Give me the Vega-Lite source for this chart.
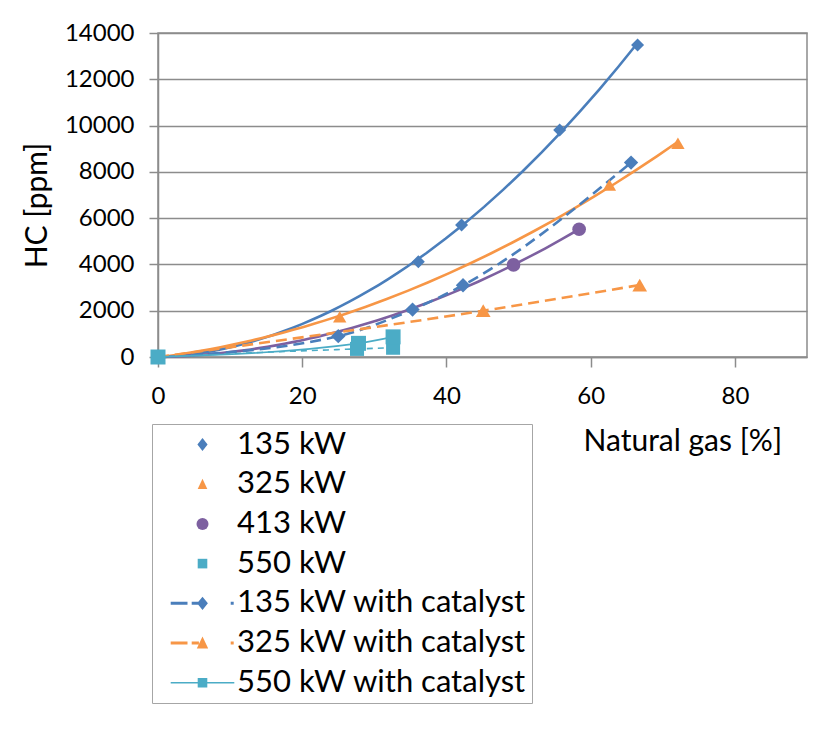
{
  "$schema": "https://vega.github.io/schema/vega-lite/v6.json",
  "width": 649,
  "height": 324,
  "autosize": {"type": "none"},
  "padding": {"left": 158, "top": 33, "right": 13, "bottom": 380},
  "background": "white",
  "config": {
    "font": "Lato",
    "view": {"stroke": "#8c8c8c", "strokeWidth": 1.5}
  },
  "data": {
    "values": [
      {"series": "135 kW", "x": 0, "y": 0},
      {"series": "135 kW", "x": 36.1, "y": 4120},
      {"series": "135 kW", "x": 42.1, "y": 5700},
      {"series": "135 kW", "x": 55.7, "y": 9810},
      {"series": "135 kW", "x": 66.5, "y": 13480},
      {"series": "325 kW", "x": 0, "y": 0},
      {"series": "325 kW", "x": 25.2, "y": 1740},
      {"series": "325 kW", "x": 62.6, "y": 7430},
      {"series": "325 kW", "x": 72.1, "y": 9240},
      {"series": "413 kW", "x": 0, "y": 0},
      {"series": "413 kW", "x": 49.3, "y": 3980},
      {"series": "413 kW", "x": 58.4, "y": 5520},
      {"series": "550 kW", "x": 0, "y": 0},
      {"series": "550 kW", "x": 27.6, "y": 350},
      {"series": "550 kW", "x": 32.6, "y": 400},
      {"series": "135 kW with catalyst", "x": 0, "y": 0},
      {"series": "135 kW with catalyst", "x": 25, "y": 900},
      {"series": "135 kW with catalyst", "x": 35.3, "y": 2050},
      {"series": "135 kW with catalyst", "x": 42.3, "y": 3100},
      {"series": "135 kW with catalyst", "x": 65.6, "y": 8400},
      {"series": "325 kW with catalyst", "x": 0, "y": 0},
      {"series": "325 kW with catalyst", "x": 45.1, "y": 2000},
      {"series": "325 kW with catalyst", "x": 66.8, "y": 3110},
      {"series": "550 kW with catalyst", "x": 0, "y": 0},
      {"series": "550 kW with catalyst", "x": 27.8, "y": 590},
      {"series": "550 kW with catalyst", "x": 32.6, "y": 870}
    ]
  },
  "encoding": {
    "x": {
      "field": "x", "type": "quantitative",
      "scale": {"domain": [0, 90], "nice": false, "zero": false},
      "axis": {
        "title": "Natural gas [%]",
        "values": [0, 20, 40, 60, 80],
        "grid": false,
        "labelFlush": false,
        "domainColor": "#8c8c8c", "domainWidth": 1.5,
        "tickColor": "#8c8c8c", "tickWidth": 1.5, "tickSize": 10,
        "labelFont": "Lato", "labelFontSize": 24, "labelColor": "#000", "labelPadding": 17,
        "titleFont": "Lato", "titleFontSize": 30, "titleFontWeight": "normal", "titleColor": "#000",
        "titleX": 425, "titleY": 84, "titleAlign": "left", "titleBaseline": "middle"
      }
    },
    "y": {
      "field": "y", "type": "quantitative",
      "scale": {"domain": [0, 14000], "nice": false},
      "axis": {
        "title": "HC [ppm]",
        "values": [0, 2000, 4000, 6000, 8000, 10000, 12000, 14000],
        "format": "d",
        "labelFlush": false,
        "grid": true, "gridColor": "#8c8c8c", "gridWidth": 1.5,
        "domainColor": "#8c8c8c", "domainWidth": 1.5,
        "tickColor": "#8c8c8c", "tickWidth": 1.5, "tickSize": 9,
        "labelFont": "Lato", "labelFontSize": 24, "labelColor": "#000", "labelPadding": 15,
        "titleFont": "Lato", "titleFontSize": 30, "titleFontWeight": "normal", "titleColor": "#000",
        "titleX": -121, "titleY": 172, "titleAlign": "center", "titleBaseline": "middle"
      }
    }
  },
  "layer": [
    {
      "transform": [
        {"filter": "indexof(['135 kW','325 kW','413 kW'], datum.series) >= 0"},
        {"regression": "y", "on": "x", "groupby": ["series"], "method": "poly", "order": 2}
      ],
      "mark": {"type": "line", "strokeWidth": 2.6},
      "encoding": {
        "color": {"field": "series", "type": "nominal",
          "scale": {"domain": ["135 kW", "325 kW", "413 kW"], "range": ["#4A7EBB", "#F79646", "#7D60A0"]},
          "legend": null}
      }
    },
    {
      "transform": [
        {"filter": "datum.series == '550 kW'"},
        {"regression": "y", "on": "x", "groupby": ["series"], "method": "poly", "order": 2}
      ],
      "mark": {"type": "line", "strokeWidth": 1.6, "strokeDash": [6, 5], "color": "#4BACC6"},
      "encoding": {}
    },
    {
      "transform": [
        {"filter": "datum.series == '135 kW with catalyst' || datum.series == '325 kW with catalyst'"}
      ],
      "mark": {"type": "line", "strokeWidth": 2.6, "strokeDash": [11, 6], "interpolate": "monotone"},
      "encoding": {
        "color": {"field": "series", "type": "nominal",
          "scale": {"domain": ["135 kW with catalyst", "325 kW with catalyst"], "range": ["#4A7EBB", "#F79646"]},
          "legend": null}
      }
    },
    {
      "transform": [
        {"filter": "datum.series == '550 kW with catalyst'"}
      ],
      "mark": {"type": "line", "strokeWidth": 1.6, "interpolate": "monotone", "color": "#4BACC6"},
      "encoding": {}
    },
    {
      "mark": {"type": "point", "filled": true, "opacity": 1},
      "encoding": {
        "color": {"field": "series", "type": "nominal",
          "scale": {
            "domain": ["135 kW", "325 kW", "413 kW", "550 kW", "135 kW with catalyst", "325 kW with catalyst", "550 kW with catalyst"],
            "range": ["#4A7EBB", "#F79646", "#7D60A0", "#4BACC6", "#4A7EBB", "#F79646", "#4BACC6"]},
          "legend": null},
        "shape": {"field": "series", "type": "nominal",
          "scale": {
            "domain": ["135 kW", "325 kW", "413 kW", "550 kW", "135 kW with catalyst", "325 kW with catalyst", "550 kW with catalyst"],
            "range": ["diamond", "triangle-up", "circle", "square", "diamond", "triangle-up", "square"]},
          "legend": null},
        "size": {"field": "series", "type": "nominal",
          "scale": {
            "domain": ["135 kW", "325 kW", "413 kW", "550 kW", "135 kW with catalyst", "325 kW with catalyst", "550 kW with catalyst"],
            "range": [169, 225, 144, 100, 169, 225, 100]},
          "legend": null}
      }
    },
    {
      "transform": [{"filter": "false"}],
      "mark": {"type": "point", "filled": true, "opacity": 1},
      "encoding": {
        "color": {"field": "series", "type": "nominal",
          "scale": {
            "domain": ["135 kW", "325 kW", "413 kW", "550 kW", "135 kW with catalyst", "325 kW with catalyst", "550 kW with catalyst"],
            "range": ["#4A7EBB", "#F79646", "#7D60A0", "#4BACC6", "#4A7EBB", "#F79646", "#4BACC6"]},
          "legend": {"title": null, "orient": "none", "legendX": -6, "legendY": 391,
            "symbolSize": 144, "symbolStrokeWidth": 0, "symbolOffset": 30, "labelOffset": 19,
            "labelFont": "Lato", "labelFontSize": 31, "labelColor": "#000", "labelLimit": 500,
            "rowPadding": 7.7, "padding": 5, "strokeColor": "#a6a6a6"}},
        "shape": {"field": "series", "type": "nominal",
          "scale": {
            "domain": ["135 kW", "325 kW", "413 kW", "550 kW", "135 kW with catalyst", "325 kW with catalyst", "550 kW with catalyst"],
            "range": [
              "M0,-1.1L0.85,0L0,1.1L-0.85,0Z",
              "M0,-0.9L0.8,0.8L-0.8,0.8Z",
              "circle",
              "M-0.8,-0.8H0.8V0.8H-0.8Z",
              "M-5.3,-0.25H-2.5V0.25H-5.3Z M-1.8,-0.25H-0.6V0.25H-1.8Z M0,-1.1L0.9,0L0,1.1L-0.9,0Z M4.7,-0.25H5.2V0.25H4.7Z",
              "M-5.3,-0.25H-2.5V0.25H-5.3Z M-1.8,-0.25H-0.6V0.25H-1.8Z M0,-1.1L0.95,0.9L-0.95,0.9Z M4.7,-0.25H5.2V0.25H4.7Z",
              "M-5.3,-0.12H5.3V0.12H-5.3Z M-0.8,-0.8H0.8V0.8H-0.8Z"
            ]},
          "legend": {"title": null, "orient": "none", "legendX": -6, "legendY": 391,
            "symbolSize": 144, "symbolStrokeWidth": 0, "symbolOffset": 30, "labelOffset": 19,
            "labelFont": "Lato", "labelFontSize": 31, "labelColor": "#000", "labelLimit": 500,
            "rowPadding": 7.7, "padding": 5, "strokeColor": "#a6a6a6"}}
      }
    }
  ],
  "resolve": {
    "scale": {"color": "independent", "shape": "independent", "size": "independent"},
    "legend": {"color": "independent", "shape": "independent", "size": "independent"}
  }
}
